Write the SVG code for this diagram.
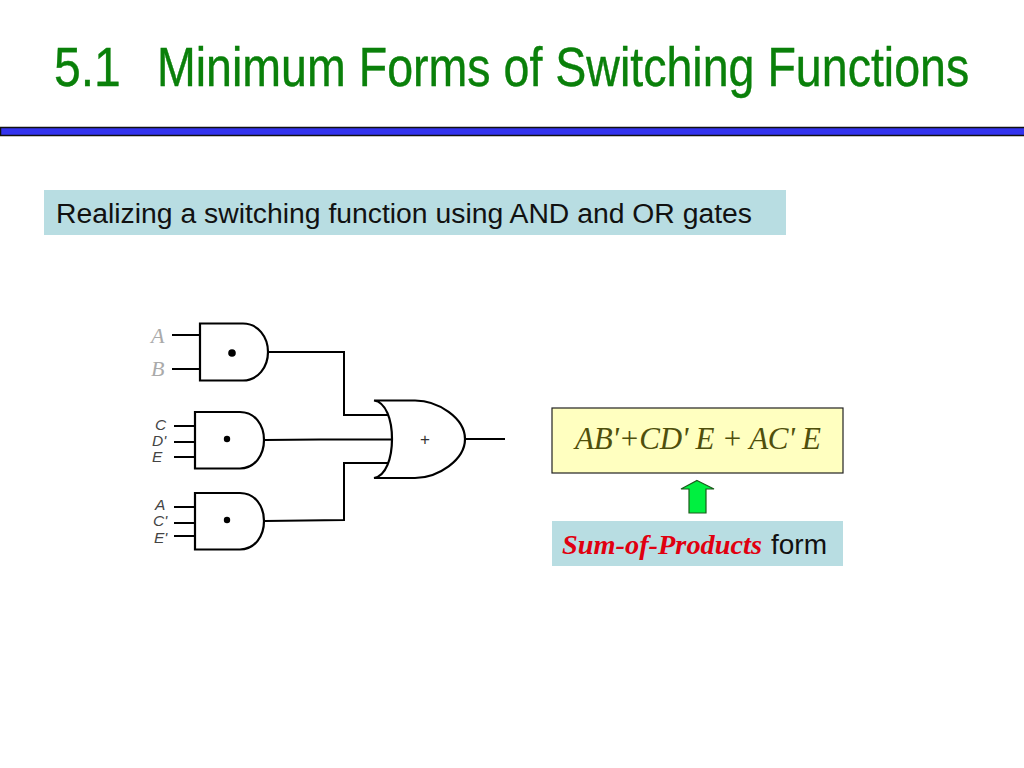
<svg xmlns="http://www.w3.org/2000/svg" width="1024" height="768" viewBox="0 0 1024 768">
<style>
.w{fill:none;stroke:#000;stroke-width:2}
.g{fill:#fff;stroke:#000;stroke-width:2.2}
.s{font-family:"Liberation Sans",Arial,sans-serif}
.t{font-family:"Liberation Serif","Times New Roman",serif;font-style:italic}
.l{font-family:"Liberation Sans",Arial,sans-serif;font-style:italic;font-size:15.500px;fill:#444}
.o{font-family:"Liberation Serif",serif;font-style:italic;font-size:22px;fill:#aaa}
</style>
<rect width="1024" height="768" fill="#fff"/>
<g id="title" class="s" font-size="56" fill="#0a800a" stroke="#0a800a" stroke-width="0.400"><text transform="translate(54 86) scale(0.88 1)" textLength="76" lengthAdjust="spacingAndGlyphs">5.1</text><text transform="translate(157 86) scale(0.88 1)" textLength="923" lengthAdjust="spacingAndGlyphs">Minimum Forms of Switching Functions</text></g>
<g id="rule"><rect x="0.500" y="127.500" width="1026" height="8" fill="#3333ee" stroke="#111" stroke-width="1.500"/></g>
<g id="caption"><rect x="44" y="190" width="742" height="45" fill="#b8dde2"/><text class="s" x="56" y="223" font-size="27" fill="#111" textLength="696" lengthAdjust="spacingAndGlyphs">Realizing a switching function using AND and OR gates</text></g>
<g id="connectors">
<path class="w" d="M172 335H200M172 369H200M268 352H344V415H388M174 426H196M174 442H196M174 457H196M265 440L320 439.500H392M174 507H196M174 523H196M174 536H196M265 521L344 520V463H388M465 439H505"/>
</g>
<g id="and1"><path class="g" d="M200 323.500H243C258 323.500 268 337 268 352S258 380.500 243 380.500H200Z"/><circle cx="232" cy="353" r="3.800"/><text class="o" x="151" y="343">A</text><text class="o" x="151" y="376">B</text></g>
<g id="and2"><path class="g" d="M195 412H240C255 412 264 425 264 440S255 468.500 240 468.500H195Z"/><circle cx="227" cy="439" r="3.200"/><text class="l" x="155" y="430">C</text><text class="l" x="152" y="446">D'</text><text class="l" x="152" y="462">E</text></g>
<g id="and3"><path class="g" d="M195 493H240C255 493 264 506 264 521S255 549.500 240 549.500H195Z"/><circle cx="227" cy="520" r="3.200"/><text class="l" x="155" y="510">A</text><text class="l" x="153" y="526">C'</text><text class="l" x="154" y="543">E'</text></g>
<g id="or"><path d="M374 400.500H415C438 400.500 465 418 465 439S438 478 415 478H374C386 476 392 458 392 439S386 402 374 400.500Z" fill="#fff" stroke="#000" stroke-width="2.200"/><text class="s" x="425" y="445" font-size="17" text-anchor="middle" fill="#333">+</text></g>
<g id="formula"><rect x="552" y="408" width="291" height="65" fill="#ffffc0" stroke="#222" stroke-width="1.200"/><text class="t" x="575" y="449" font-size="31" fill="#4f4f0c" textLength="246">AB'+CD' E + AC' E</text></g>
<g id="arrow"><path d="M697 480.500L714 489H706V513H689V489H681Z" fill="#00f040" stroke="#1a5a1a" stroke-width="1.200"/></g>
<g id="form"><rect x="552" y="521" width="291" height="45" fill="#b8dde2"/><text class="t" x="562" y="554" font-size="27" fill="#e00010" font-weight="bold" textLength="200" lengthAdjust="spacingAndGlyphs">Sum-of-Products</text><text class="s" x="771" y="554" font-size="27" fill="#111" textLength="56" lengthAdjust="spacingAndGlyphs">form</text></g>
</svg>
